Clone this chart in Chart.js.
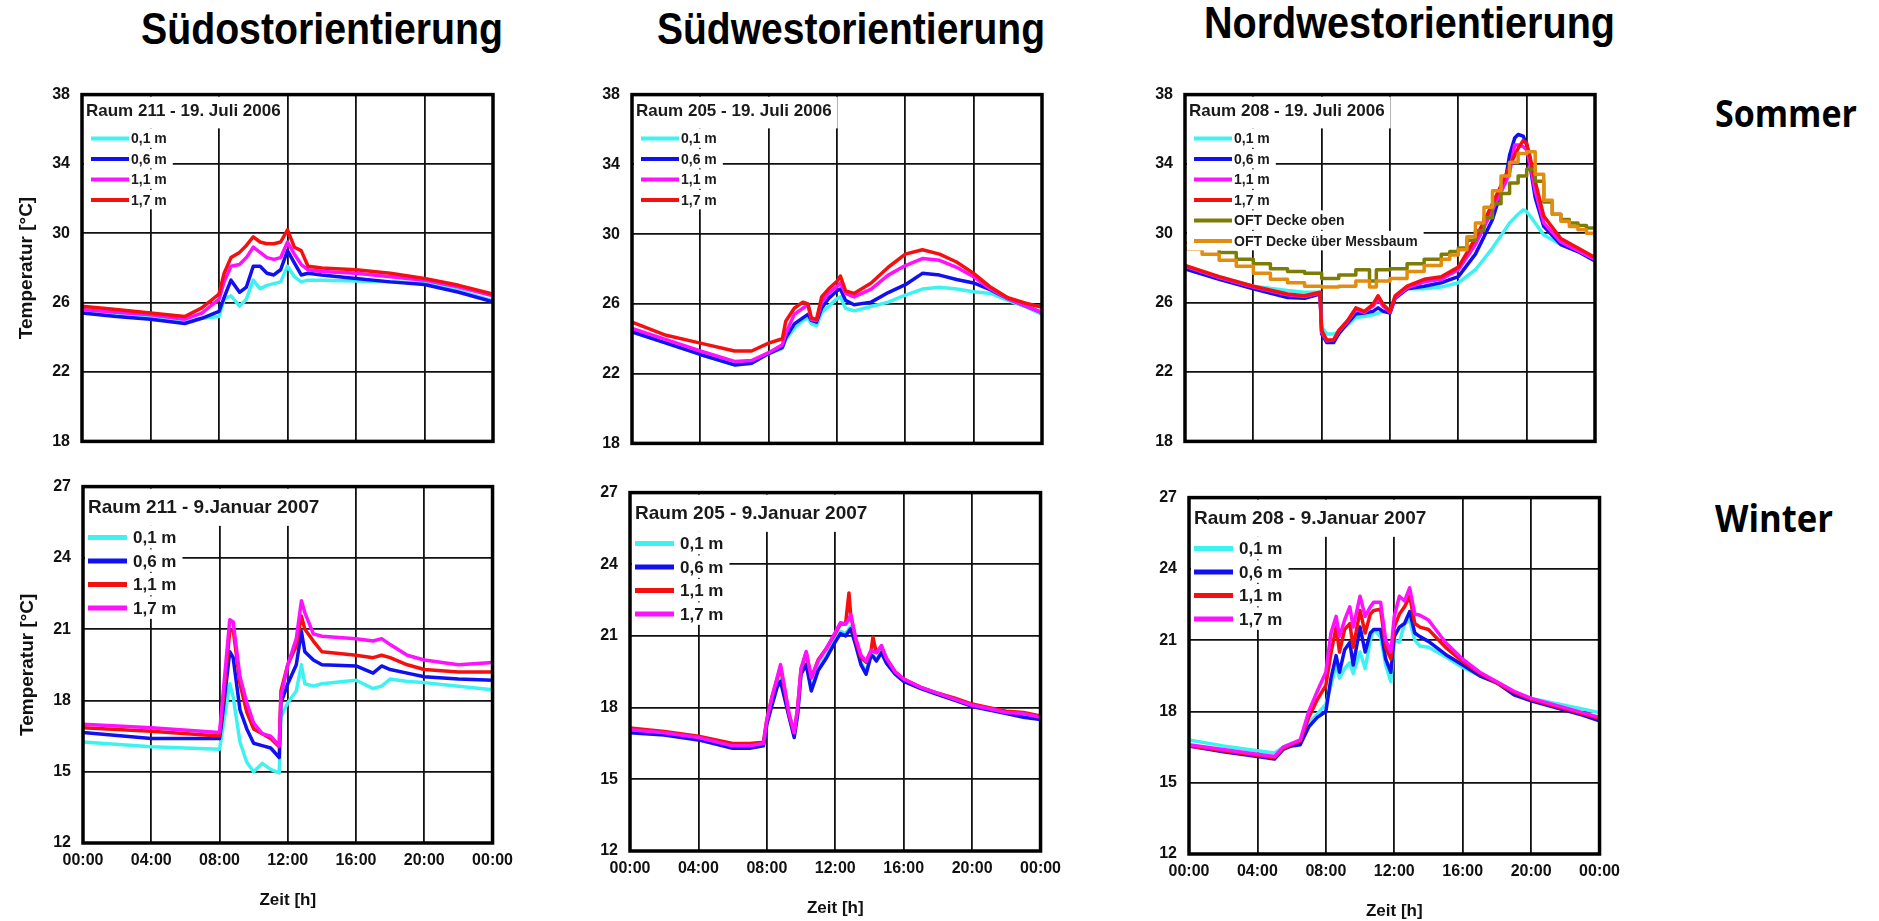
<!DOCTYPE html>
<html>
<head>
<meta charset="utf-8">
<script src="https://cdn.jsdelivr.net/npm/chart.js@4.4.0/dist/chart.umd.min.js"></script>
<style>
  html, body { margin: 0; padding: 0; background: #fff; width: 1879px; height: 921px; overflow: hidden; }
  canvas { position: absolute; }
  .txt { position: absolute; white-space: nowrap; transform-origin: left top; color: #000; }
  .col { font: bold 44px "Liberation Sans", Arial, sans-serif; line-height: 44px; }
  .season { font: bold 38px "Open Sans", sans-serif; line-height: 38px; }
</style>
</head>
<body>
<script>
// ---- labels ----
const colTitles = ['Südostorientierung', 'Südwestorientierung', 'Nordwestorientierung'];
const seasonLabels = ['Sommer', 'Winter'];
const heightLabels = ['0,1 m', '0,6 m', '1,1 m', '1,7 m'];
const oftLabels = ['OFT Decke oben', 'OFT Decke über Messbaum'];
const timeTickLabels = ['00:00', '04:00', '08:00', '12:00', '16:00', '20:00', '00:00'];

// ---- Raum 211, Sommer ----
const hours211S = [0, 2, 4, 6, 7, 8, 8.3, 8.7, 9.2, 9.6, 10, 10.4, 10.8, 11.2, 11.6, 12, 12.4, 12.8, 13.2, 14, 16, 18, 20, 22, 24];
const r211S_01 = [25.5, 25.3, 25.15, 24.9, 25.1, 25.2, 26.2, 26.4, 25.8, 26.2, 27.3, 26.8, 27.0, 27.1, 27.2, 28.1, 27.5, 27.2, 27.3, 27.3, 27.25, 27.2, 27.15, 26.7, 26.1];
const r211S_06 = [25.4, 25.2, 25.05, 24.8, 25.1, 25.5, 26.3, 27.3, 26.6, 26.9, 28.1, 28.1, 27.7, 27.6, 27.9, 29.0, 28.3, 27.6, 27.7, 27.6, 27.4, 27.2, 27.05, 26.6, 26.05];
const r211S_11 = [25.6, 25.45, 25.3, 25.05, 25.4, 26.2, 27.2, 28.1, 28.2, 28.6, 29.2, 28.9, 28.6, 28.5, 28.6, 29.5, 28.8, 28.2, 27.9, 27.8, 27.7, 27.5, 27.3, 26.9, 26.4];
const r211S_17 = [25.8, 25.6, 25.4, 25.2, 25.7, 26.5, 27.7, 28.6, 28.9, 29.3, 29.8, 29.5, 29.4, 29.4, 29.5, 30.2, 29.2, 29.0, 28.1, 28.0, 27.9, 27.7, 27.4, 27.0, 26.5];

// ---- Raum 211, Winter ----
const hours211W = [0, 4, 8, 8.1, 8.6, 8.8, 9.2, 9.6, 10, 10.5, 11, 11.5, 11.6, 12, 12.5, 12.8, 13, 13.5, 14, 16, 17, 17.5, 18, 19, 20, 22, 24];
const r211W_01 = [16.25, 16.05, 15.95, 16.4, 18.7, 18.15, 16.25, 15.4, 15.0, 15.35, 15.1, 14.95, 17.3, 17.9, 18.4, 19.5, 18.7, 18.6, 18.7, 18.85, 18.5, 18.6, 18.9, 18.8, 18.75, 18.6, 18.45];
const r211W_06 = [16.65, 16.4, 16.4, 16.9, 20.05, 19.8, 17.6, 16.8, 16.2, 16.1, 16.0, 15.6, 17.9, 18.7, 19.5, 20.9, 20.05, 19.7, 19.5, 19.45, 19.15, 19.45, 19.3, 19.15, 19.0, 18.9, 18.85];
const r211W_11 = [16.85, 16.7, 16.5, 17.2, 20.9, 21.0, 18.7, 17.5, 16.8, 16.6, 16.4, 16.05, 18.4, 19.5, 20.3, 21.55, 21.0, 20.5, 20.05, 19.9, 19.8, 19.9, 19.8, 19.5, 19.3, 19.2, 19.2];
const r211W_17 = [17.0, 16.85, 16.65, 17.4, 21.4, 21.3, 19.0, 17.9, 17.05, 16.6, 16.5, 16.1, 18.15, 19.5, 20.6, 22.2, 21.7, 20.8, 20.7, 20.6, 20.5, 20.6, 20.35, 19.9, 19.7, 19.5, 19.6];

// ---- Raum 205, Sommer ----
const hours205S = [0, 2, 4, 6, 7, 8, 8.8, 9, 9.5, 10, 10.3, 10.5, 10.8, 11.1, 11.5, 12, 12.2, 12.5, 13, 14, 15, 16, 17, 18, 19, 20, 21, 22, 23, 24];
const r205S_01 = [24.4, 23.75, 23.1, 22.5, 22.6, 23.15, 23.45, 23.95, 24.6, 25.05, 25.2, 24.85, 24.75, 25.5, 25.85, 26.3, 26.4, 25.75, 25.6, 25.85, 26.1, 26.5, 26.85, 26.95, 26.85, 26.7, 26.6, 26.2, 25.85, 25.4];
const r205S_06 = [24.4, 23.75, 23.1, 22.5, 22.6, 23.15, 23.5, 24.05, 24.85, 25.2, 25.4, 25.05, 24.95, 25.75, 26.3, 26.75, 26.85, 26.2, 25.95, 26.1, 26.65, 27.1, 27.75, 27.65, 27.4, 27.2, 26.8, 26.3, 25.9, 25.5];
const r205S_11 = [24.6, 23.95, 23.3, 22.7, 22.75, 23.2, 23.65, 24.3, 25.4, 25.75, 25.95, 25.1, 25.05, 26.1, 26.6, 27.0, 27.2, 26.6, 26.4, 26.85, 27.65, 28.2, 28.6, 28.5, 28.1, 27.55, 26.85, 26.3, 25.9, 25.5];
const r205S_17 = [24.95, 24.2, 23.75, 23.3, 23.3, 23.75, 24.0, 25.0, 25.75, 26.1, 26.0, 25.2, 25.1, 26.4, 26.85, 27.3, 27.6, 26.75, 26.6, 27.2, 28.1, 28.85, 29.1, 28.85, 28.4, 27.75, 26.95, 26.35, 26.05, 25.8];

// ---- Raum 205, Winter ----
const hours205W = [0, 2, 4, 6, 7, 7.8, 8, 8.3, 8.6, 8.8, 9, 9.3, 9.6, 9.8, 10, 10.3, 10.6, 11, 11.5, 12, 12.3, 12.6, 12.8, 12.9, 13.2, 13.5, 13.8, 14.1, 14.2, 14.4, 14.7, 15, 15.5, 16, 17, 18, 19, 20, 21, 22, 23, 24];
const r205W_01 = [17.0, 16.9, 16.7, 16.35, 16.35, 16.45, 17.35, 18.2, 18.9, 19.2, 18.6, 17.65, 16.85, 17.8, 19.5, 19.9, 18.8, 19.65, 20.2, 20.85, 21.2, 21.1, 21.3, 21.4, 20.7, 19.9, 19.5, 20.25, 20.2, 20.0, 20.35, 19.9, 19.45, 19.15, 18.85, 18.6, 18.35, 18.1, 17.95, 17.8, 17.7, 17.6];
const r205W_06 = [16.95, 16.85, 16.65, 16.3, 16.3, 16.4, 17.3, 18.1, 18.85, 19.1, 18.5, 17.6, 16.75, 17.7, 19.4, 19.8, 18.7, 19.55, 20.1, 20.75, 21.1, 21.0, 21.2, 21.3, 20.6, 19.8, 19.4, 20.2, 20.15, 19.95, 20.3, 19.85, 19.4, 19.1, 18.8, 18.55, 18.3, 18.05, 17.9, 17.75, 17.6, 17.5];
const r205W_11 = [17.15, 17.0, 16.8, 16.5, 16.5, 16.55, 17.5, 18.45, 19.2, 19.7, 18.9, 17.7, 16.95, 18.0, 19.6, 20.3, 19.25, 20.0, 20.5, 21.1, 21.5, 21.5, 22.8, 21.9, 20.8, 20.1, 19.9, 20.4, 20.95, 20.3, 20.55, 20.05, 19.5, 19.2, 18.85, 18.6, 18.4, 18.15, 18.0, 17.85, 17.8, 17.65];
const r205W_17 = [17.07, 16.95, 16.75, 16.4, 16.4, 16.5, 17.5, 18.45, 19.25, 19.8, 19.0, 17.75, 16.95, 18.0, 19.65, 20.35, 19.25, 19.95, 20.5, 21.15, 21.55, 21.5, 21.7, 21.9, 20.9, 20.2, 19.95, 20.4, 20.35, 20.3, 20.6, 20.05, 19.5, 19.2, 18.85, 18.6, 18.35, 18.1, 17.95, 17.8, 17.75, 17.6];

// ---- Raum 208, Sommer ----
const hours208S = [0, 2, 4, 6, 7, 7.9, 8, 8.3, 8.7, 9, 9.5, 10, 10.5, 11, 11.3, 11.6, 12, 12.3, 13, 14, 15, 16, 17, 18, 18.8, 19, 19.3, 19.5, 19.8, 20, 20.2, 20.5, 21, 22, 23, 24];
const r208S_01 = [28.05, 27.5, 26.95, 26.7, 26.6, 26.6, 24.6, 24.2, 24.2, 24.3, 24.7, 25.15, 25.2, 25.3, 25.4, 25.5, 25.5, 26.3, 26.8, 26.8, 26.9, 27.15, 27.9, 29.15, 30.3, 30.6, 30.9, 31.1, 31.35, 31.25, 31.0, 30.6, 29.9, 29.35, 28.95, 28.4];
const r208S_06 = [27.95, 27.35, 26.8, 26.3, 26.25, 26.5, 24.2, 23.7, 23.7, 24.2, 24.8, 25.35, 25.4, 25.5, 25.7, 25.5, 25.4, 26.25, 26.8, 26.95, 27.15, 27.5, 28.8, 30.8, 33.35, 34.5, 35.5, 35.7, 35.6, 35.1, 33.9, 32.05, 30.4, 29.35, 28.95, 28.4];
const r208S_11 = [28.1, 27.45, 26.9, 26.45, 26.35, 26.55, 24.3, 23.8, 23.85, 24.35, 24.9, 25.6, 25.45, 25.8, 26.2, 25.8, 25.45, 26.3, 26.85, 27.2, 27.35, 27.9, 29.35, 31.35, 33.0, 33.5, 35.1, 35.1, 35.0, 34.8, 34.0, 32.45, 30.6, 29.5, 29.0, 28.5];
const r208S_17 = [28.15, 27.5, 26.95, 26.5, 26.4, 26.6, 24.4, 23.85, 23.85, 24.4, 24.95, 25.7, 25.5, 25.9, 26.4, 25.9, 25.5, 26.4, 26.95, 27.35, 27.5, 28.05, 29.7, 31.7, 33.4, 33.9, 34.5, 34.9, 35.35, 35.2, 34.4, 33.0, 31.0, 29.7, 29.15, 28.6];
const hours208Oft = [0, 1, 2, 3, 4, 5, 6, 7, 8, 9, 10, 10.8, 11.2, 12, 13, 14, 15, 15.5, 16, 16.5, 17, 17.5, 18, 18.5, 19, 19.5, 20, 20.5, 21, 21.5, 22, 22.5, 23, 23.5, 24];
const r208S_oben = [29.45, 29.25, 28.9, 28.5, 28.25, 27.95, 27.8, 27.7, 27.4, 27.6, 27.9, 27.25, 27.9, 27.95, 28.25, 28.5, 28.8, 28.95, 29.15, 29.6, 30.15, 30.9, 31.7, 32.3, 32.9, 33.3, 33.7, 33.0, 31.8, 31.1, 30.8, 30.6, 30.45, 30.3, 30.15];
const r208S_mess = [29.1, 28.8, 28.45, 28.1, 27.7, 27.35, 27.15, 26.95, 26.9, 26.95, 27.25, 26.9, 27.25, 27.4, 27.8, 28.15, 28.5, 28.75, 29.05, 29.8, 30.6, 31.5, 32.45, 33.3, 34.1, 34.6, 34.7, 33.4, 31.9, 31.1, 30.7, 30.4, 30.2, 30.0, 29.8];

// ---- Raum 208, Winter ----
const hours208W = [0, 2, 4, 5, 5.5, 6, 6.5, 7, 7.5, 8, 8.3, 8.6, 8.8, 9.1, 9.4, 9.6, 10, 10.3, 10.6, 10.8, 11.2, 11.5, 11.8, 12, 12.3, 12.6, 12.9, 13.2, 13.5, 14, 15, 16, 17, 18, 19, 20, 21, 22, 23, 24];
const r208W_01 = [16.8, 16.55, 16.35, 16.25, 16.5, 16.65, 16.7, 17.5, 17.9, 18.3, 19.1, 19.95, 19.4, 19.8, 20.05, 19.6, 20.5, 19.8, 21.0, 21.45, 21.15, 19.95, 19.25, 21.0, 20.9, 21.7, 21.85, 21.0, 20.75, 20.7, 20.3, 19.85, 19.5, 19.2, 18.8, 18.55, 18.4, 18.25, 18.1, 17.95];
const r208W_06 = [16.55, 16.3, 16.1, 16.0, 16.4, 16.55, 16.6, 17.35, 17.75, 18.0, 19.4, 20.35, 19.65, 20.6, 20.9, 19.95, 21.55, 20.5, 21.3, 21.45, 21.45, 20.2, 19.65, 21.15, 21.55, 21.7, 22.2, 21.3, 21.15, 20.95, 20.4, 19.95, 19.5, 19.2, 18.7, 18.45, 18.25, 18.05, 17.85, 17.6];
const r208W_11 = [16.55, 16.35, 16.15, 16.05, 16.45, 16.6, 16.75, 17.75, 18.5, 19.1, 20.45, 21.55, 20.5, 21.45, 21.7, 20.7, 22.25, 21.3, 22.1, 22.25, 22.3, 20.7, 20.2, 21.55, 22.1, 22.4, 22.85, 21.7, 21.55, 21.45, 20.7, 20.1, 19.6, 19.2, 18.8, 18.5, 18.3, 18.1, 17.9, 17.7];
const r208W_17 = [16.6, 16.4, 16.2, 16.1, 16.5, 16.65, 16.8, 18.0, 18.85, 19.65, 21.3, 22.0, 21.15, 21.85, 22.4, 21.55, 22.85, 22.0, 22.4, 22.6, 22.6, 21.0, 20.5, 22.0, 22.85, 22.65, 23.2, 22.1, 22.05, 21.85, 20.9, 20.2, 19.65, 19.25, 18.85, 18.55, 18.35, 18.15, 17.95, 17.75];

// ---- styling / layout ----
const FONT = '"Liberation Sans", Arial, Helvetica, sans-serif';
const CYAN = '#3ff2f2', BLUE = '#1010f0', MAGENTA = '#ff10ff', RED = '#f51010', OLIVE = '#7d7d05', ORANGE = '#e28c10';
const summerColors = [CYAN, BLUE, MAGENTA, RED];
const winterColors = [CYAN, BLUE, RED, MAGENTA];
const AXIS_W = 75, PAD_T = 12, PAD_R = 28;

const legendLayout = {
  S: { titleSize: 17, titleX: 4, titleY: 17, itemSize: 14, rowY: 44, rowGap: 20.5, lineX0: 9, lineX1: 47, labelX: 49, lineW: 4 },
  W: { titleSize: 19, titleX: 5, titleY: 21, itemSize: 17, rowY: 51, rowGap: 23.5, lineX0: 5, lineX1: 44, labelX: 50, lineW: 5 }
};

// draws the in-plot title + legend on white boxes, and the heavy frame
const panelLegend = {
  id: 'panelLegend',
  afterDraw(chart, args, opts) {
    const { ctx, chartArea: a } = chart;
    const L = legendLayout[opts.season];
    ctx.save();
    ctx.textBaseline = 'middle';
    ctx.textAlign = 'left';

    ctx.font = 'bold ' + L.titleSize + 'px ' + FONT;
    const tw = ctx.measureText(opts.title).width;
    ctx.fillStyle = '#fff';
    ctx.fillRect(a.left + 2, a.top + 2, L.titleX + tw + 4, L.rowY - L.rowGap / 2 - 2);
    ctx.fillStyle = '#1a1a1a';
    ctx.fillText(opts.title, a.left + L.titleX, a.top + L.titleY);

    ctx.font = 'bold ' + L.itemSize + 'px ' + FONT;
    opts.items.forEach((it, i) => {
      const y = a.top + L.rowY + i * L.rowGap;
      const w = ctx.measureText(it.label).width;
      ctx.fillStyle = '#fff';
      ctx.fillRect(a.left + 2, y - L.rowGap / 2, L.labelX + w + 4, L.rowGap - 1);
      ctx.strokeStyle = it.color;
      ctx.lineWidth = L.lineW;
      ctx.beginPath();
      ctx.moveTo(a.left + L.lineX0, y);
      ctx.lineTo(a.left + L.lineX1, y);
      ctx.stroke();
      ctx.fillStyle = '#1a1a1a';
      ctx.fillText(it.label, a.left + L.labelX, y + 1);
    });

    ctx.strokeStyle = '#000';
    ctx.lineWidth = 3.5;
    ctx.strokeRect(a.left, a.top, a.right - a.left, a.bottom - a.top);
    ctx.restore();
  }
};

function heightSeries(hours, arrays, colors) {
  return arrays.map((vals, i) => ({ label: heightLabels[i], hours: hours, values: vals, color: colors[i] }));
}

const panels = [
  { title: 'Raum 211 - 19. Juli 2006', season: 'S', box: { l: 82, t: 85, r: 493, b: 451 }, yTitle: true,
    series: heightSeries(hours211S, [r211S_01, r211S_06, r211S_11, r211S_17], summerColors) },
  { title: 'Raum 205 - 19. Juli 2006', season: 'S', box: { l: 632, t: 85, r: 1042, b: 453 }, yTitle: false,
    series: heightSeries(hours205S, [r205S_01, r205S_06, r205S_11, r205S_17], summerColors) },
  { title: 'Raum 208 - 19. Juli 2006', season: 'S', box: { l: 1185, t: 85, r: 1595, b: 451 }, yTitle: false,
    series: heightSeries(hours208S, [r208S_01, r208S_06, r208S_11, r208S_17], summerColors).concat([
      { label: oftLabels[0], hours: hours208Oft, values: r208S_oben, color: OLIVE, stepped: true },
      { label: oftLabels[1], hours: hours208Oft, values: r208S_mess, color: ORANGE, stepped: true }
    ]) },
  { title: 'Raum 211 - 9.Januar 2007', season: 'W', box: { l: 83, t: 477, r: 493, b: 843 }, yTitle: true,
    series: heightSeries(hours211W, [r211W_01, r211W_06, r211W_11, r211W_17], winterColors) },
  { title: 'Raum 205 - 9.Januar 2007', season: 'W', box: { l: 630, t: 483, r: 1041, b: 851 }, yTitle: false,
    series: heightSeries(hours205W, [r205W_01, r205W_06, r205W_11, r205W_17], winterColors) },
  { title: 'Raum 208 - 9.Januar 2007', season: 'W', box: { l: 1189, t: 488, r: 1600, b: 854 }, yTitle: false,
    series: heightSeries(hours208W, [r208W_01, r208W_06, r208W_11, r208W_17], winterColors) }
];

function makePanel(p) {
  const summer = p.season === 'S';
  const plotW = p.box.r - p.box.l, plotH = p.box.b - p.box.t;
  const xAxisH = summer ? 0 : 70;
  const padB = summer ? 12 : 4;
  const W = plotW + AXIS_W + PAD_R, H = PAD_T + plotH + xAxisH + padB;
  const cv = document.createElement('canvas');
  cv.width = W; cv.height = H;
  cv.style.width = W + 'px'; cv.style.height = H + 'px';
  cv.style.left = (p.box.l - AXIS_W) + 'px';
  cv.style.top = (p.box.t - PAD_T) + 'px';
  document.body.appendChild(cv);

  const n = p.series.length;
  new Chart(cv, {
    type: 'line',
    data: {
      datasets: p.series.map((s, i) => ({
        label: s.label,
        data: s.hours.map((h, k) => ({ x: h, y: s.values[k] })),
        borderColor: s.color,
        borderWidth: 3.5,
        pointRadius: 0,
        tension: 0,
        fill: false,
        stepped: s.stepped ? true : false,
        borderJoinStyle: 'round',
        order: n - i
      }))
    },
    options: {
      responsive: false,
      animation: false,
      devicePixelRatio: 1,
      events: [],
      layout: { padding: { left: 0, top: PAD_T, right: PAD_R, bottom: padB } },
      plugins: {
        legend: { display: false },
        tooltip: { enabled: false },
        panelLegend: { title: p.title, season: p.season, items: p.series.map(s => ({ label: s.label, color: s.color })) }
      },
      scales: {
        x: {
          type: 'linear', min: 0, max: 24,
          afterFit: s => { s.height = xAxisH; },
          border: { display: false },
          grid: { color: '#111', lineWidth: 1.8, drawTicks: false },
          ticks: {
            display: !summer, stepSize: 4, autoSkip: false, maxRotation: 0, padding: 8,
            color: '#111', font: { family: FONT, size: 16, weight: 'bold' },
            callback: v => timeTickLabels[v / 4]
          },
          title: {
            display: !summer, text: 'Zeit [h]', color: '#111',
            font: { family: FONT, size: 17, weight: 'bold' }, padding: { top: 0, bottom: 2 }
          }
        },
        y: {
          min: summer ? 18 : 12, max: summer ? 38 : 27,
          afterFit: s => { s.width = AXIS_W; },
          border: { display: false },
          grid: { color: '#111', lineWidth: 1.8, drawTicks: false },
          ticks: { stepSize: summer ? 4 : 3, padding: 12, color: '#111', font: { family: FONT, size: 16, weight: 'bold' } },
          title: {
            display: p.yTitle, text: 'Temperatur [°C]', color: '#111',
            font: { family: FONT, size: 19, weight: 'bold' }, padding: { top: 8, bottom: 0 }
          }
        }
      }
    },
    plugins: [panelLegend]
  });
}

function fitText(text, cls, left, top, width) {
  const el = document.createElement('div');
  el.className = 'txt ' + cls;
  el.textContent = text;
  el.style.left = left + 'px';
  el.style.top = top + 'px';
  document.body.appendChild(el);
  const w = el.getBoundingClientRect().width;
  el.style.transform = 'scaleX(' + (width / w).toFixed(4) + ')';
}

panels.forEach(makePanel);

fitText(colTitles[0], 'col', 141, 7, 362);
fitText(colTitles[1], 'col', 657, 7, 388);
fitText(colTitles[2], 'col', 1204, 1, 411);
fitText(seasonLabels[0], 'season', 1715, 93, 142);
fitText(seasonLabels[1], 'season', 1715, 498, 118);
</script>
</body>
</html>
